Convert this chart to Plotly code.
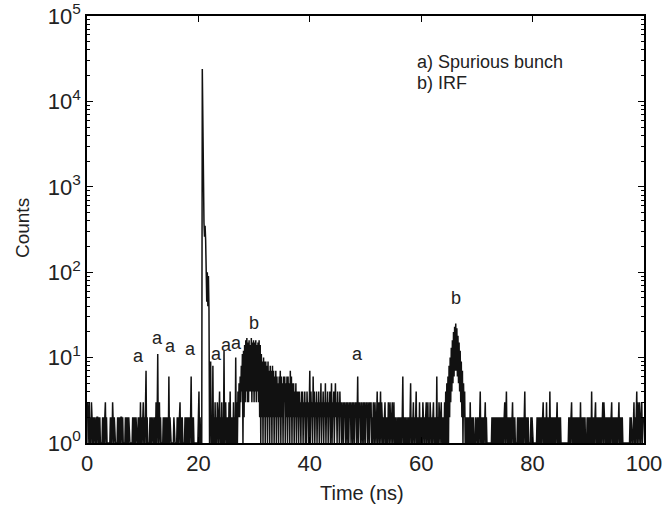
import numpy as np
import plotly.graph_objects as go

# Time-correlated photon counting histogram, 0.1 ns bins
bin_width_ns = 0.1

counts_00_10 = [
    2, 3, 1, 2, 3, 1, 2, 1, 3, 2, 1, 2, 1, 2, 1, 1, 2, 1, 2, 2,
    1, 2, 1, 2, 1, 1, 1, 1, 2, 1, 2, 1, 2, 3, 1, 2, 1, 1, 1, 1,
    1, 1, 2, 1, 2, 1, 3, 2, 1, 2, 1, 1, 1, 1, 1, 2, 1, 2, 1, 2,
    1, 2, 2, 1, 2, 1, 1, 1, 1, 2, 1, 2, 1, 2, 1, 2, 1, 1, 1, 1,
    1, 1, 2, 1, 2, 1, 2, 1, 2, 1, 1, 1, 2, 1, 2, 1, 3, 1, 2, 1,
]
counts_10_20 = [
    2, 3, 1, 2, 1, 2, 7, 1, 2, 1, 1, 1, 1, 2, 1, 2, 1, 2, 1, 1,
    2, 1, 2, 1, 3, 1, 2, 11, 1, 2, 3, 1, 2, 1, 1, 1, 1, 2, 1, 2,
    1, 2, 1, 2, 1, 2, 1, 6, 1, 2, 1, 1, 1, 1, 1, 1, 2, 1, 1, 1,
    1, 1, 2, 1, 2, 1, 2, 3, 1, 2, 1, 2, 1, 1, 1, 1, 2, 1, 2, 1,
    2, 1, 2, 1, 2, 1, 2, 6, 1, 2, 1, 2, 1, 1, 1, 1, 1, 1, 1, 1,
]
counts_20_30 = [
    2, 4, 1, 2, 1, 1, 1, 24000, 2500, 500, 380, 260, 350, 240, 110, 45, 100, 40, 90, 36,
    1, 2, 9, 1, 2, 1, 8, 1, 2, 1, 3, 1, 2, 1, 3, 2, 1, 2, 4, 1,
    2, 1, 3, 1, 2, 1, 12, 1, 2, 3, 1, 2, 1, 2, 1, 3, 1, 4, 1, 2,
    1, 2, 1, 3, 1, 2, 1, 10, 1, 3, 1, 4, 2, 5, 2, 6, 3, 8, 4, 11,
    1, 12, 2, 14, 3, 16, 4, 17, 3, 15, 3, 16, 4, 14, 4, 17, 3, 15, 4, 16,
]
counts_30_40 = [
    3, 15, 4, 16, 3, 14, 4, 15, 3, 16, 2, 14, 1, 11, 2, 9, 1, 10, 2, 9,
    1, 9, 2, 8, 1, 9, 2, 7, 1, 8, 2, 7, 1, 8, 2, 7, 1, 6, 2, 7,
    1, 6, 2, 5, 1, 6, 2, 7, 1, 6, 2, 5, 1, 6, 3, 6, 1, 5, 2, 6,
    1, 6, 2, 5, 1, 7, 2, 6, 1, 5, 2, 5, 1, 4, 2, 5, 1, 4, 2, 4,
    1, 4, 2, 3, 1, 4, 2, 4, 1, 3, 2, 4, 1, 3, 1, 4, 2, 3, 1, 4,
]
counts_40_50 = [
    7, 1, 4, 2, 3, 1, 6, 2, 4, 1, 3, 2, 4, 1, 3, 2, 4, 1, 3, 2,
    5, 1, 3, 2, 4, 1, 3, 2, 5, 1, 3, 2, 4, 1, 3, 2, 4, 1, 3, 5,
    1, 3, 2, 4, 1, 3, 5, 2, 3, 1, 4, 2, 3, 1, 4, 2, 3, 1, 3, 2,
    1, 3, 2, 3, 1, 2, 3, 1, 3, 2, 1, 3, 2, 3, 1, 2, 3, 1, 3, 2,
    1, 3, 2, 3, 1, 2, 6, 1, 3, 2, 3, 1, 2, 3, 1, 2, 3, 1, 3, 2,
]
counts_50_60 = [
    1, 3, 2, 3, 1, 2, 3, 1, 3, 2, 3, 1, 2, 1, 3, 2, 1, 3, 2, 1,
    2, 4, 1, 2, 3, 1, 2, 4, 1, 3, 2, 1, 2, 1, 2, 3, 1, 2, 1, 2,
    1, 3, 2, 1, 3, 2, 1, 2, 3, 1, 2, 3, 1, 2, 1, 2, 1, 1, 2, 1,
    2, 1, 2, 1, 2, 1, 2, 6, 1, 2, 1, 2, 1, 2, 1, 1, 2, 1, 2, 1,
    2, 5, 1, 2, 1, 2, 3, 1, 2, 1, 2, 4, 1, 2, 1, 2, 1, 3, 1, 2,
]
counts_60_70 = [
    1, 2, 1, 3, 2, 1, 2, 1, 2, 3, 1, 2, 3, 1, 2, 1, 3, 2, 1, 2,
    1, 2, 3, 1, 2, 1, 2, 1, 6, 1, 2, 1, 3, 2, 1, 2, 3, 1, 2, 1,
    2, 1, 3, 1, 4, 1, 5, 1, 6, 1, 8, 2, 10, 3, 13, 4, 16, 5, 20, 6,
    23, 7, 25, 7, 22, 6, 18, 5, 15, 4, 12, 3, 9, 2, 7, 1, 5, 2, 4, 1,
    2, 1, 2, 1, 2, 1, 2, 1, 3, 1, 2, 1, 2, 1, 2, 1, 1, 1, 2, 1,
]
counts_70_80 = [
    1, 2, 1, 2, 1, 2, 4, 1, 2, 1, 2, 1, 2, 1, 2, 3, 1, 2, 1, 1,
    1, 1, 1, 1, 1, 1, 1, 2, 1, 2, 1, 2, 1, 2, 1, 2, 1, 2, 1, 2,
    1, 2, 1, 2, 1, 2, 1, 2, 1, 2, 3, 1, 2, 4, 1, 2, 1, 2, 1, 2,
    1, 2, 1, 2, 3, 1, 2, 1, 2, 1, 1, 1, 1, 2, 1, 2, 1, 2, 1, 2,
    1, 2, 1, 2, 1, 2, 4, 1, 2, 1, 2, 1, 2, 1, 1, 1, 1, 2, 1, 2,
]
counts_80_90 = [
    1, 1, 1, 1, 1, 1, 1, 1, 2, 1, 2, 1, 2, 1, 2, 1, 2, 1, 2, 3,
    1, 2, 1, 2, 1, 3, 1, 2, 1, 2, 1, 4, 1, 2, 1, 2, 1, 2, 1, 2,
    1, 2, 1, 2, 3, 1, 2, 1, 2, 1, 2, 1, 1, 1, 1, 1, 1, 1, 1, 1,
    1, 1, 1, 1, 1, 2, 1, 2, 1, 2, 3, 1, 2, 1, 2, 1, 2, 1, 2, 1,
    2, 1, 2, 1, 2, 1, 3, 1, 2, 1, 2, 1, 2, 1, 2, 1, 1, 1, 2, 1,
]
counts_90_100 = [
    2, 1, 2, 1, 2, 1, 4, 1, 2, 1, 2, 1, 2, 3, 1, 2, 1, 2, 1, 2,
    1, 2, 1, 2, 1, 2, 3, 1, 3, 2, 1, 2, 1, 2, 1, 2, 1, 2, 1, 2,
    1, 2, 3, 1, 2, 1, 2, 1, 2, 1, 2, 1, 2, 1, 2, 3, 1, 2, 1, 2,
    1, 2, 1, 1, 1, 1, 1, 1, 1, 1, 1, 1, 1, 1, 1, 2, 1, 2, 1, 1,
    1, 2, 3, 1, 2, 1, 2, 4, 1, 3, 2, 1, 3, 2, 1, 2, 3, 1, 2, 2,
]

# peak labels: (time ns, counts, text)
label_times = [9.2, 12.6, 15.0, 18.6, 23.3, 25.1, 26.9, 30.0, 48.6, 66.2]
label_counts = [10.4, 17.0, 13.7, 12.6, 11.0, 14.1, 14.8, 25.4, 11.0, 49.9]
label_texts = ["a", "a", "a", "a", "a", "a", "a", "b", "a", "b"]

legend_lines = ["a) Spurious bunch", "b) IRF"]

x_ticks = [0, 20, 40, 60, 80, 100]
y_ticks = [1, 10, 100, 1000, 10000, 100000]
y_tick_text = ["10<sup>0</sup>", "10<sup>1</sup>", "10<sup>2</sup>",
               "10<sup>3</sup>", "10<sup>4</sup>", "10<sup>5</sup>"]
y_minor_ticks = [m * 10 ** d for d in range(5) for m in range(2, 10)]

counts = (counts_00_10 + counts_10_20 + counts_20_30 + counts_30_40 + counts_40_50
          + counts_50_60 + counts_60_70 + counts_70_80 + counts_80_90 + counts_90_100)
times = np.arange(len(counts)) * bin_width_ns

FONT = "Liberation Sans, Arial, Helvetica, sans-serif"
TXT = "#222222"

fig = go.Figure()
fig.add_trace(go.Scatter(x=times, y=counts, mode="lines",
                         line=dict(color="#111111", width=1.5), hoverinfo="skip",
                         showlegend=False))

for tx, cy, s in zip(label_times, label_counts, label_texts):
    fig.add_annotation(x=tx, y=np.log10(cy), text=s, showarrow=False,
                       xanchor="center", yanchor="middle",
                       font=dict(size=18, color=TXT, family=FONT))

for i, s in enumerate(legend_lines):
    fig.add_annotation(x=58.9, y=4.46 - 0.245 * i, text=s, showarrow=False,
                       xanchor="left", yanchor="middle",
                       font=dict(size=18, color=TXT, family=FONT))

# axis titles
fig.add_annotation(xref="paper", yref="paper", x=0.494, y=-0.117, text="Time (ns)",
                   xanchor="center", yanchor="middle",
                   showarrow=False, font=dict(size=20, color=TXT, family=FONT))
fig.add_annotation(xref="paper", yref="paper", x=-0.117, y=0.503, text="Counts",
                   xanchor="center", yanchor="middle",
                   textangle=-90, showarrow=False, font=dict(size=19, color=TXT, family=FONT))

axis_common = dict(showline=True, linecolor="black", linewidth=1.5, mirror="allticks",
                   ticks="inside", tickcolor="black", showgrid=False, zeroline=False,
                   automargin=False,
                   tickfont=dict(size=22, color=TXT, family=FONT))

fig.update_xaxes(range=[0, 100], tickmode="array", tickvals=x_ticks, ticklen=6, tickwidth=1,
                 **axis_common)
fig.update_yaxes(type="log", range=[0, 5], tickmode="array", tickvals=y_ticks,
                 ticktext=y_tick_text, ticklen=6, tickwidth=1,
                 minor=dict(ticks="inside", ticklen=3, tickcolor="black", tickwidth=1,
                            tickmode="array", tickvals=y_minor_ticks, showgrid=False),
                 **axis_common)

fig.update_layout(width=664, height=507, margin=dict(l=87, r=20, t=16, b=64),
                  plot_bgcolor="white", paper_bgcolor="white",
                  font=dict(family=FONT, color=TXT))

fig.write_html("out.html", config={"displayModeBar": False},
               post_script="document.body.style.margin='0px';")
